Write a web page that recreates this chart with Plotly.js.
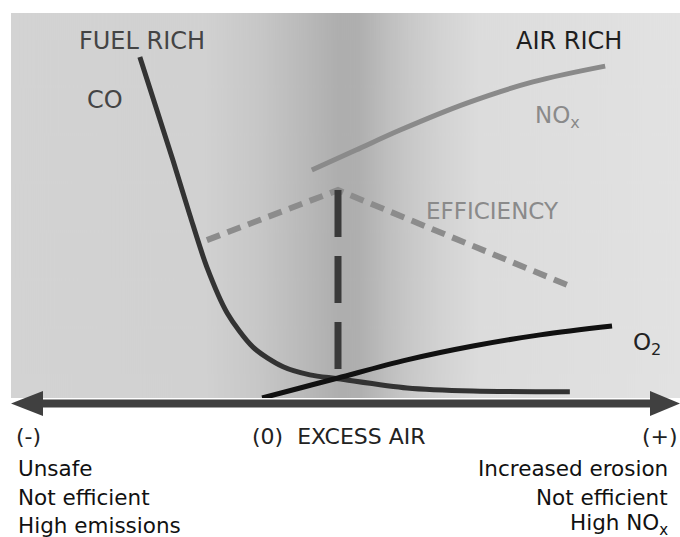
<!DOCTYPE html>
<html><head><meta charset="utf-8">
<script src="https://cdn.plot.ly/plotly-3.0.1.min.js"></script>
<style>html,body{margin:0;padding:0;background:#fff}#chart{width:680px;height:537px}</style>
</head><body><div id="chart"></div>
<script>
// Excess air axis: 0 = stoichiometric, negative = fuel rich, positive = air rich
const coX  = [-0.606, -0.554, -0.505, -0.453, -0.401, -0.339, -0.260, -0.168, -0.086, 0.0, 0.211, 0.413, 0.709];
const coY  = [0.886, 0.748, 0.618, 0.475, 0.340, 0.221, 0.132, 0.081, 0.060, 0.050, 0.026, 0.018, 0.016];
const o2X  = [-0.232, -0.116, 0.0, 0.211, 0.413, 0.618, 0.838];
const o2Y  = [0.0, 0.026, 0.052, 0.099, 0.135, 0.164, 0.187];
const noxX = [-0.080, 0.055, 0.190, 0.394, 0.596, 0.817];
const noxY = [0.592, 0.644, 0.696, 0.766, 0.821, 0.862];
const effX = [-0.401, 0.0, 0.700];
const effY = [0.410, 0.540, 0.294];
const optX = [0.0, 0.0];
const optY = [0.540, 0.055];

const curveLabels = ['CO', 'NO<sub>x</sub>', 'EFFICIENCY', 'O<sub>2</sub>'];
const zoneLabels = ['FUEL RICH', 'AIR RICH'];
const axisLabels = ['(-)', '(0)  EXCESS AIR', '(+)'];
const leftNotes = ['Unsafe', 'Not efficient', 'High emissions'];
const rightNotes = ['Increased erosion', 'Not efficient', 'High NO<sub>x</sub>'];

// layout geometry helpers (pixel -> paper)
const W = 680, H = 537, L = 11, T = 13, B = 139, R = 0;
const PW = W - L - R, PH = H - T - B;
const px = v => (v - L) / PW;
const py = v => (H - B - v) / PH;

// background gradient
const cv = document.createElement('canvas');
cv.width = 669; cv.height = 8;
const ctx = cv.getContext('2d');
const g = ctx.createLinearGradient(0, 0, 669, 0);
[[0, '#d3d3d3'], [0.29, '#d1d1d1'], [0.37, '#c7c7c7'], [0.44, '#b9b9b9'], [0.49, '#aeaeae'],
 [0.52, '#afafaf'], [0.565, '#bfbfbf'], [0.60, '#c9c9c9'], [0.645, '#d3d3d3'], [0.70, '#dcdcdc'], [1, '#e2e2e2']]
  .forEach(s => g.addColorStop(s[0], s[1]));
ctx.fillStyle = g; ctx.fillRect(0, 0, 669, 8);
const bgUrl = cv.toDataURL();

const FONT = 'DejaVu Sans, sans-serif';
const traces = [
  {x: effX, y: effY, mode: 'lines', line: {color: '#8c8c8c', width: 6, dash: '14px,8px'}},
  {x: optX, y: optY, mode: 'lines', line: {color: '#3a3a3a', width: 7, dash: '47px,19px'}},
  {x: noxX, y: noxY, mode: 'lines', line: {color: '#8a8a8a', width: 5, shape: 'spline', smoothing: 1}},
  {x: coX, y: coY, mode: 'lines', line: {color: '#333333', width: 5, shape: 'spline', smoothing: 0.8}},
  {x: o2X, y: o2Y, mode: 'lines', line: {color: '#111111', width: 5, shape: 'spline', smoothing: 1}}
];

function ann(text, x, y, size, color, xanchor) {
  return {text: text, xref: 'paper', yref: 'paper', x: px(x), y: py(y), xanchor: xanchor || 'center',
          yanchor: 'middle', showarrow: false, font: {family: FONT, size: size, color: color}};
}

const annotations = [
  ann(zoneLabels[0], 142, 41, 24, '#444444'),
  ann(zoneLabels[1], 569, 41, 24, '#1e1e1e'),
  ann(curveLabels[0], 105, 100, 24, '#444444'),
  ann(curveLabels[1], 557, 117, 23, '#8a8a8a'),
  ann(curveLabels[2], 492, 211, 23, '#8a8a8a'),
  ann(curveLabels[3], 647, 344, 23, '#222222'),
  ann(axisLabels[0], 14, 436, 22, '#222222', 'left'),
  ann(axisLabels[1], 339, 436, 22, '#222222'),
  ann(axisLabels[2], 680, 436, 22, '#222222', 'right'),
  ann(leftNotes[0], 16, 468, 21.5, '#111111', 'left'),
  ann(leftNotes[1], 16, 497, 21.5, '#111111', 'left'),
  ann(leftNotes[2], 16, 525, 21.5, '#111111', 'left'),
  ann(rightNotes[0], 670, 468, 21.5, '#111111', 'right'),
  ann(rightNotes[1], 670, 497, 21.5, '#111111', 'right'),
  ann(rightNotes[2], 670, 524, 21.5, '#111111', 'right')
];

const ay = py(403.5), ah = 12.5 / PH;
const shapes = [
  {type: 'line', xref: 'paper', yref: 'paper', x0: px(30), x1: px(662), y0: ay, y1: ay,
   line: {color: '#404040', width: 8}},
  {type: 'path', xref: 'paper', yref: 'paper',
   path: `M ${px(11)} ${ay} L ${px(43)} ${ay + ah} L ${px(43)} ${ay - ah} Z`,
   fillcolor: '#404040', line: {width: 0}},
  {type: 'path', xref: 'paper', yref: 'paper',
   path: `M ${px(680)} ${ay} L ${px(650)} ${ay + ah} L ${px(650)} ${ay - ah} Z`,
   fillcolor: '#404040', line: {width: 0}}
];

const layout = {
  width: W, height: H,
  margin: {l: L, r: R, t: T, b: B, pad: 0},
  paper_bgcolor: '#ffffff', plot_bgcolor: 'rgba(0,0,0,0)',
  showlegend: false,
  xaxis: {range: [-1, 342 / 327], visible: false, fixedrange: true},
  yaxis: {range: [0, 1], visible: false, fixedrange: true},
  images: [{source: bgUrl, xref: 'paper', yref: 'paper', x: 0, y: 1, sizex: 1, sizey: 1,
            sizing: 'stretch', xanchor: 'left', yanchor: 'top', layer: 'below'}],
  annotations: annotations,
  shapes: shapes
};

Plotly.newPlot('chart', traces, layout, {staticPlot: true, displayModeBar: false});
</script>
</body></html>
